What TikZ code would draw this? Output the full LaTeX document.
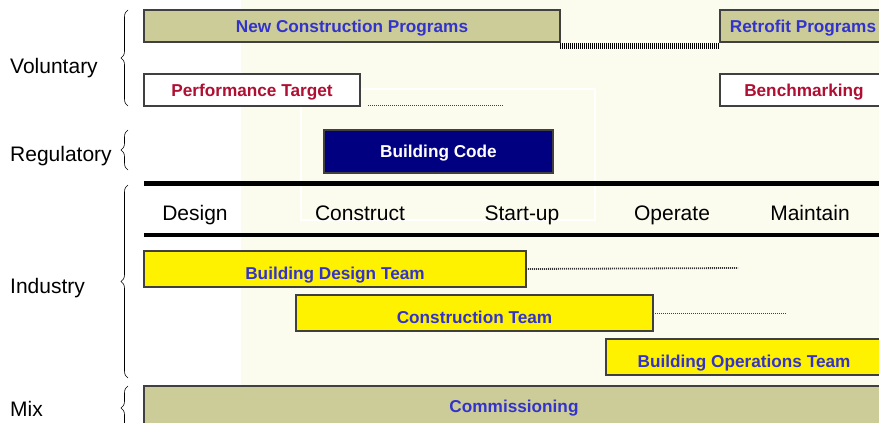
\documentclass[tikz,border=0pt]{standalone}
\usepackage{fontspec}
\setmainfont{Liberation Sans}
\usetikzlibrary{decorations.pathreplacing}

\definecolor{khaki}{RGB}{204,204,153}
\definecolor{cream}{RGB}{252,252,238}
\definecolor{teamyellow}{RGB}{255,242,0}
\definecolor{labelblue}{RGB}{51,51,204}
\definecolor{labelred}{RGB}{175,15,50}
\definecolor{codenavy}{RGB}{0,0,128}
\definecolor{edgegray}{RGB}{64,64,64}

\begin{document}
\begin{tikzpicture}[x=1pt, y=-1pt,
	bar/.style={draw=edgegray, line width=1.5pt, anchor=north west, inner sep=0pt, outer sep=0pt, text height=12pt, text depth=0pt, font=\fontsize{17.2}{20}\selectfont\bfseries},
	prog/.style={bar, fill=khaki, text=labelblue},
	target/.style={bar, fill=white, text=labelred},
	team/.style={bar, fill=teamyellow, text=labelblue, text height=20pt},
	phase/.style={anchor=base, inner sep=0pt, font=\fontsize{21}{25}\selectfont},
	side/.style={anchor=base west, inner sep=0pt, font=\fontsize{21}{25}\selectfont},
	group/.style={decorate, decoration={brace, amplitude=7pt}, line width=0.6pt},
	finedots/.style={draw=edgegray, line width=0.9pt, dash pattern=on 1pt off 1pt}]
	
	\useasboundingbox (0,0) rectangle (879,423);
	\fill [cream] (241,0) rectangle (879,423);
	\draw [white, line width=2pt] (301,89) rectangle (595,220);
	
	% voluntary
	\node [prog, minimum width=416, minimum height=32] (ncp) at (144,10) {New Construction Programs};
	\node [prog, minimum width=166, minimum height=32] (rp) at (720,10) {Retrofit Programs};
	\node [target, minimum width=216, minimum height=32] (pt) at (144,74) {Performance Target};
	\node [target, minimum width=168, minimum height=32] (bm) at (720,74) {Benchmarking};
	\draw [line width=6pt, dash pattern=on 1pt off 1pt] ([yshift=-4pt]ncp.south east) -- ([yshift=-4pt]rp.south west);
	\coordinate (ptend) at (503,105);
	\draw [finedots] ([xshift=8pt, yshift=1pt]pt.south east) -- (ptend);
	
	% regulatory
	\node [bar, fill=codenavy, text=white, minimum width=229, minimum height=43] (code) at (324,130) {Building Code};
	
	% phases
	\draw [line width=5pt] (144,183) -- (879,183);
	\draw [line width=4pt] (144,235) -- (879,235);
	\node [phase] (design) at (195,220) {Design};
	\node [phase] (construct) at (360,220) {Construct};
	\node [phase] (startup) at (522,220) {Start-up};
	\node [phase] (operate) at (672,220) {Operate};
	\node [phase] (maintain) at (810,220) {Maintain};
	
	% industry
	\node [team, minimum width=382, minimum height=36] (bdt) at (144,251) {Building Design Team};
	\node [team, minimum width=357, minimum height=36] (ct) at (296,295) {Construction Team};
	\node [team, minimum width=276, minimum height=36] (bot) at (606,339) {Building Operations Team};
	\coordinate (bdtend) at (738,268);
	\coordinate (ctend) at (787,313);
	\draw [finedots, line width=1.8pt, draw=black!80] (bdt.east) -- (bdtend);
	\draw [finedots] (ct.east) -- (ctend);
	
	% mix
	\node [prog, minimum width=740, minimum height=40] (comm) at (144,386) {Commissioning};
	
	% groups
	\node [side] (vol) at (10,73) {Voluntary};
	\node [side] (reg) at (10,161) {Regulatory};
	\node [side] (ind) at (10,293) {Industry};
	\node [side] (mix) at (10,416) {Mix};
	\draw [group] (128,106) -- (128,10);
	\draw [group] (128,170) -- (128,130);
	\draw [group] (128,378) -- (128,185);
	\draw [group] (128,430) -- (128,386);
	
\end{tikzpicture}
\end{document}
